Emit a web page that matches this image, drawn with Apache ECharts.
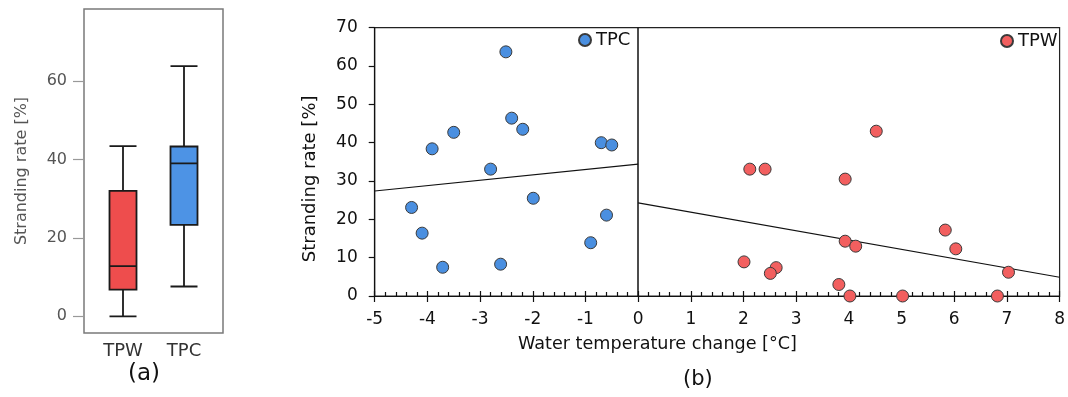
<!DOCTYPE html>
<html>
<head>
<meta charset="utf-8">
<script src="https://cdn.jsdelivr.net/npm/echarts@6/dist/echarts.min.js"></script>
<style>
html,body{margin:0;padding:0;background:#fff;}
#chart{width:1068px;height:397px;}
</style>
</head>
<body>
<div id="chart"></div>
<script>
// ---- data ----
const boxCategories = ['TPW', 'TPC'];
// [min, Q1, median, Q3, max]
const boxTPW = [0, 6.8, 12.8, 32.0, 43.4];
const boxTPC = [7.6, 23.3, 39.0, 43.3, 63.8];
const boxTickValues = [0, 20, 40, 60];

const tpcPoints = [
  [-2.51, 63.7], [-2.40, 46.4], [-2.19, 43.5], [-3.50, 42.7], [-3.91, 38.4],
  [-2.80, 33.1], [-0.70, 40.0], [-0.50, 39.4], [-1.99, 25.5], [-4.30, 23.1],
  [-4.10, 16.4], [-3.71, 7.5], [-2.61, 8.3], [-0.90, 13.9], [-0.60, 21.1]
];
const tpwPoints = [
  [4.52, 43.0], [2.12, 33.1], [2.41, 33.1], [3.93, 30.5], [3.93, 14.3],
  [4.13, 13.0], [5.83, 17.2], [6.03, 12.3], [2.01, 8.9], [2.62, 7.4],
  [2.51, 5.9], [3.81, 3.0], [4.02, 0], [5.02, 0], [6.82, 0], [7.03, 6.2]
];
const tpcFit = [[-5, 27.4], [0, 34.4]];
const tpwFit = [[0, 24.3], [8, 4.9]];

// ---- style ----
const FONT = "'DejaVu Sans', 'Liberation Sans', Arial, sans-serif";
const RED = '#EE4D4D';
const BLUE = '#4D93E5';
const RED_DOT = '#F25F5F';
const BLUE_DOT = '#4A8FE0';
const INK = '#111';

const chart = echarts.init(document.getElementById('chart'));
const option = {
  animation: false,
  textStyle: { fontFamily: FONT },
  grid: [
    { left: 84, top: 9, width: 139, height: 324, show: true, borderColor: '#7a7a7a', borderWidth: 1.5, backgroundColor: 'transparent' },
    { left: 92.5, top: 9, width: 122, height: 324 },
    { left: 374.7, top: 27.7, width: 688.6, height: 268.3, show: true, borderColor: '#222', borderWidth: 1.2 }
  ],
  xAxis: [
    { gridIndex: 0, type: 'value', show: false, min: 0, max: 1 },
    { gridIndex: 1, type: 'category', data: boxCategories,
      axisLine: { show: false }, axisTick: { show: false },
      axisLabel: { fontFamily: FONT, fontSize: 18, color: '#333', margin: 9 } },
    { gridIndex: 2, type: 'value', min: -5, max: 8, interval: 1,
      axisLine: { show: true, onZero: false, lineStyle: { color: INK, width: 1.2 } },
      axisTick: { show: true, inside: true, length: 5, lineStyle: { color: INK, width: 1.2 } },
      minorTick: { show: true, splitNumber: 5, length: 4, lineStyle: { color: INK, width: 1.2 } },
      splitLine: { show: false },
      axisLabel: { fontFamily: FONT, fontSize: 17, color: INK, margin: 15 } },
    { gridIndex: 2, type: 'value', min: -5, max: 8, interval: 1, position: 'bottom', offset: 0,
      axisLine: { show: false, onZero: false },
      axisTick: { show: true, inside: false, length: 6, lineStyle: { color: INK, width: 1.2 } },
      splitLine: { show: false }, axisLabel: { show: false } }
  ],
  yAxis: [
    { gridIndex: 0, type: 'value', min: -4.26, max: 78.36,
      axisLine: { show: false, onZero: false },
      axisTick: { show: true, length: 11, customValues: boxTickValues, lineStyle: { color: '#999', width: 1.2 } },
      axisLabel: { customValues: boxTickValues, fontFamily: FONT, fontSize: 16, color: '#555', margin: 17 },
      splitLine: { show: false },
      name: 'Stranding rate [%]', nameLocation: 'middle', nameGap: 54,
      nameTextStyle: { fontFamily: FONT, fontSize: 16, color: '#555' } },
    { gridIndex: 1, type: 'value', min: -4.26, max: 78.36, show: false },
    { gridIndex: 2, type: 'value', min: 0, max: 70, interval: 10,
      axisLine: { show: true, onZero: false, lineStyle: { color: INK, width: 1.2 } },
      axisTick: { show: true, inside: false, length: 6, lineStyle: { color: INK, width: 1.2 } },
      axisLabel: { fontFamily: FONT, fontSize: 17, color: INK, margin: 17 },
      splitLine: { show: false },
      name: 'Stranding rate [%]', nameLocation: 'middle', nameGap: 55,
      nameTextStyle: { fontFamily: FONT, fontSize: 18, color: INK, padding: [0, 34, 0, 0] } }
  ],
  legend: [
    { data: ['TPC'], left: 578, top: 31, padding: 0, icon: 'circle', itemWidth: 12, itemHeight: 12,
      textStyle: { fontFamily: FONT, fontSize: 18, color: INK } },
    { data: ['TPW'], left: 1000, top: 32, padding: 0, icon: 'circle', itemWidth: 12, itemHeight: 12,
      textStyle: { fontFamily: FONT, fontSize: 18, color: INK } }
  ],
  graphic: [
    { type: 'text', left: 128, top: 363, style: { text: '(a)', font: '23px ' + FONT, fill: INK } },
    { type: 'text', left: 683, top: 369, style: { text: '(b)', font: '21px ' + FONT, fill: INK } },
    { type: 'text', left: 518, top: 335, style: { text: 'Water temperature change [°C]', font: '17.6px ' + FONT, fill: INK } }
  ],
  series: [
    { name: 'box', type: 'boxplot', xAxisIndex: 1, yAxisIndex: 1, boxWidth: [27, 27],
      itemStyle: { borderColor: '#1a1a1a', borderWidth: 1.8 },
      data: [
        { value: boxTPW, itemStyle: { color: RED, borderColor: '#1a1a1a' } },
        { value: boxTPC, itemStyle: { color: BLUE, borderColor: '#1a1a1a' } }
      ] },
    { name: 'TPC', type: 'scatter', xAxisIndex: 2, yAxisIndex: 2, symbolSize: 12,
      itemStyle: { color: BLUE_DOT, borderColor: '#3a3a3a', borderWidth: 1, opacity: 1 },
      data: tpcPoints, z: 5 },
    { name: 'TPW', type: 'scatter', xAxisIndex: 2, yAxisIndex: 2, symbolSize: 12,
      itemStyle: { color: RED_DOT, borderColor: '#3a3a3a', borderWidth: 1, opacity: 1 },
      data: tpwPoints, z: 5 },
    { name: 'TPC fit', type: 'line', xAxisIndex: 2, yAxisIndex: 2, data: tpcFit, symbol: 'none', silent: true,
      lineStyle: { color: INK, width: 1.2 },
      markLine: { silent: true, symbol: 'none', label: { show: false },
        lineStyle: { color: INK, width: 1.5, type: 'solid' }, data: [{ xAxis: 0 }] } },
    { name: 'TPW fit', type: 'line', xAxisIndex: 2, yAxisIndex: 2, data: tpwFit, symbol: 'none', silent: true,
      lineStyle: { color: INK, width: 1.2 } }
  ]
};
chart.setOption(option);
</script>
</body>
</html>
